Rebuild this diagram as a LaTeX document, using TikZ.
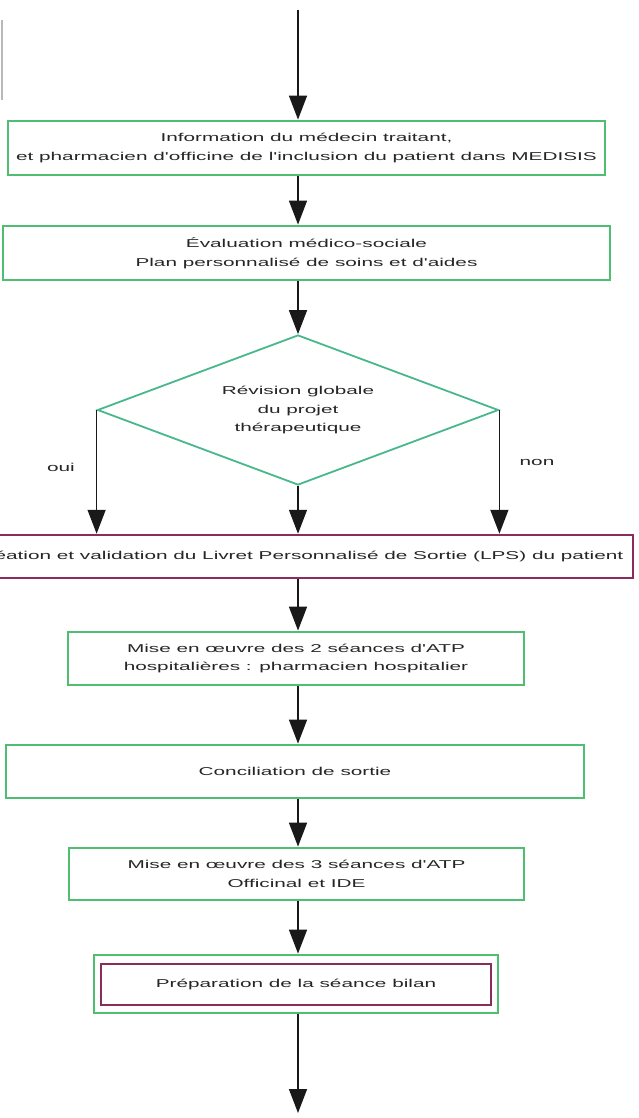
\documentclass[tikz,border=0pt]{standalone}
\usepackage{fontspec}
\usetikzlibrary{shapes.geometric,arrows.meta,calc}
\newfontfamily\flowfont[FakeStretch=1.82]{Liberation Sans}
\definecolor{colorEtape}{RGB}{80,190,112}
\definecolor{colorDecision}{RGB}{72,184,140}
\definecolor{colorLivret}{RGB}{138,44,92}
\colorlet{colorFleche}{black!90}
\colorlet{colorBord}{gray!55}
\tikzset{
   every path/.style={>={Triangle[width=18pt,length=24pt]}},
   txt/.style={font=\flowfont\fontsize{11.4}{18.7}\selectfont,align=center,text=black!85},
   etape/.style={txt,rectangle,draw=colorEtape,line width=2.8pt,inner sep=0pt},
   livret/.style={txt,rectangle,draw=colorLivret,line width=2.5pt,inner sep=0pt},
   decision/.style={txt,diamond,aspect=2.67,draw=colorDecision,line width=1.8pt,inner sep=0pt,
      minimum width=401pt,minimum height=150pt},
   fl/.style={->,color=colorFleche,line width=1.5pt},
   bord/.style={color=colorBord,line width=2pt},
}

\begin{document}
\begin{tikzpicture}[x=1pt,y=-1pt]
    \useasboundingbox (0,0) rectangle (639,1118);
    \clip (0,0) rectangle (639,1118);

    \coordinate (entree) at (298,10);
    \coordinate (sortie) at (298,1113);

    \node[etape,minimum width=597pt,minimum height=54pt] (info) at (306.5,148)
        {Information du médecin traitant,\\et pharmacien d'officine de l'inclusion du patient dans MEDISIS};
    \node[etape,minimum width=607pt,minimum height=54pt] (eval) at (306.5,253)
        {Évaluation médico-sociale\\Plan personnalisé de soins et d'aides};
    \node[decision] (revision) at (298,410)
        {Révision globale\\du projet\\thérapeutique};
    \node[livret,minimum width=670pt,minimum height=43pt] (lps) at (298,556.5)
        {Création et validation du Livret Personnalisé de Sortie (LPS) du patient};
    \node[etape,minimum width=456pt,minimum height=53pt] (atpa) at (296,658.5)
        {Mise en \oe uvre des 2 séances d'ATP\\hospitalières : pharmacien hospitalier};
    \node[etape,minimum width=578pt,minimum height=53pt] (concil) at (295,771.5)
        {Conciliation de sortie};
    \node[etape,minimum width=455pt,minimum height=52pt] (atpb) at (296.5,874)
        {Mise en \oe uvre des 3 séances d'ATP\\Officinal et IDE};
    \node[etape,minimum width=404pt,minimum height=58pt] (bilancadre) at (296,984) {};
    \node[livret,minimum width=390pt,minimum height=41pt] (bilan) at (296,984.5)
        {Préparation de la séance bilan};

    \node[txt] (oui) at (61,467) {oui};
    \node[txt] (non) at (537,462) {non};

    % bord gris en haut a gauche
    \draw[bord] (1.5,20) -- (1.5,100);

    \draw[fl] (entree) -- (info.north -| entree);
    \draw[fl] (info.south -| entree) -- (eval.north -| entree);
    \draw[fl] (eval.south -| entree) -- (revision.north);
    \draw[fl] (revision.west) -- (lps.north -| revision.west);
    \draw[fl] (revision.south) -- (lps.north -| revision.south);
    \draw[fl] (revision.east) -- (lps.north -| revision.east);
    \draw[fl] (lps.south -| entree) -- (atpa.north -| entree);
    \draw[fl] (atpa.south -| entree) -- (concil.north -| entree);
    \draw[fl] (concil.south -| entree) -- (atpb.north -| entree);
    \draw[fl] (atpb.south -| entree) -- (bilancadre.north -| entree);
    \draw[fl] (bilancadre.south -| entree) -- (sortie);
\end{tikzpicture}
\end{document}
